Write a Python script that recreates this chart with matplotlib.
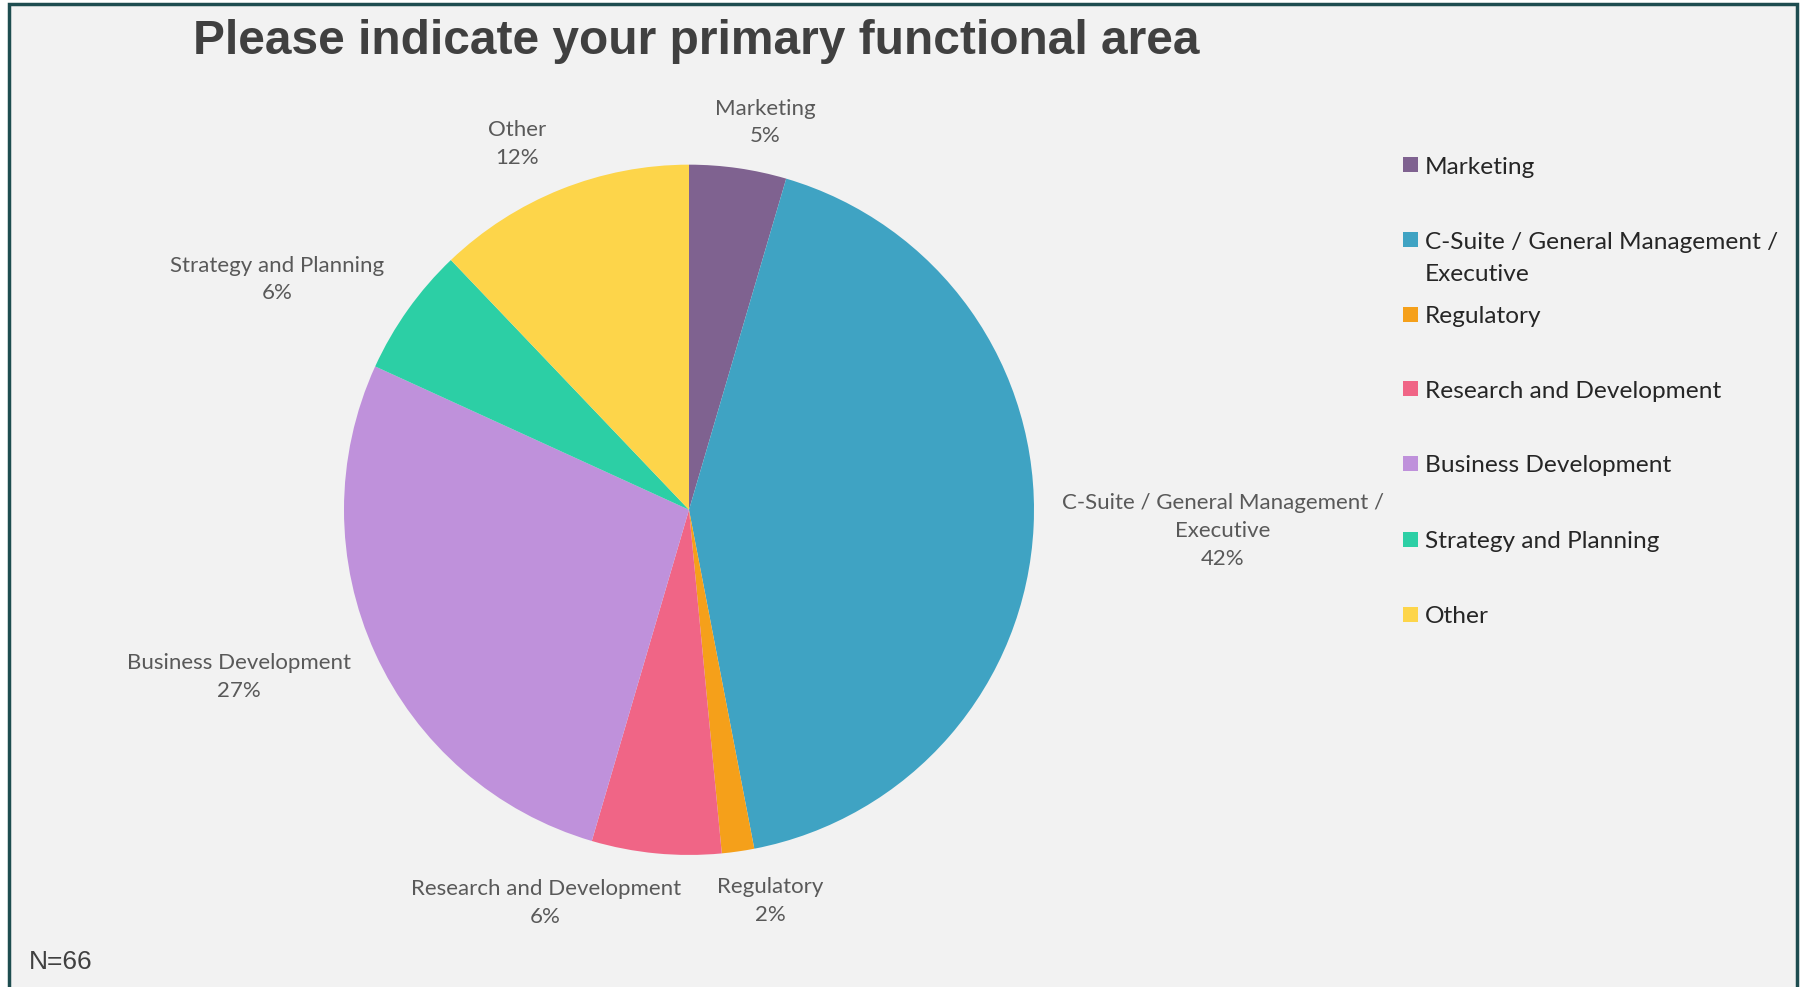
import numpy as np
import matplotlib.pyplot as plt
from matplotlib.patches import Rectangle

# survey responses, N=66
areas = ["Marketing", "C-Suite / General Management / Executive", "Regulatory",
         "Research and Development", "Business Development",
         "Strategy and Planning", "Other"]
counts = [3, 28, 1, 4, 18, 4, 8]
colors = ["#7f6290", "#3fa3c3", "#f5a01a", "#f06586", "#bf91db", "#2ccfa5", "#fdd54a"]

# label text as shown next to each slice (wrapped by hand)
slice_text = ["Marketing", "C-Suite / General Management /\nExecutive", "Regulatory",
              "Research and Development", "Business Development",
              "Strategy and Planning", "Other"]
legend_text = ["Marketing", "C-Suite / General Management /\nExecutive", "Regulatory",
               "Research and Development", "Business Development",
               "Strategy and Planning", "Other"]

# label placement: distance in pie radii and angle shift from the wedge middle
label_radius = [1.145, 1.548, 1.156, 1.212, 1.390, 1.368, 1.171]
label_shift = [3.0, -0.5, -3.6, 14.6, 4.2, -6.2, -3.3]

W, H = 1800, 987
fig = plt.figure(figsize=(W / 100, (H + 0.4) / 100), dpi=100)
fig.patch.set_facecolor("white")
ax = fig.add_axes([0, 0, 1, 1])

# panel background with the dark teal frame
ax.add_patch(Rectangle((9, -20), 1788, H - 4 + 20, facecolor="#f2f2f2",
                       edgecolor="#1e4d50", linewidth=2.5, zorder=0))

cx, cy, r = 689, H - 510, 345
wedges, _ = ax.pie(counts, colors=colors, startangle=90, counterclock=False,
                   center=(cx, cy), radius=r, wedgeprops=dict(linewidth=0))
for w in wedges:
    w.set_zorder(2)

total = sum(counts)
for w, txt, lr, sh, c in zip(wedges, slice_text, label_radius, label_shift, counts):
    mid = np.deg2rad((w.theta1 + w.theta2) / 2 + (-sh))
    x = cx + lr * r * np.cos(mid)
    y = cy + lr * r * np.sin(mid)
    pct = f"{100 * c / total:.0f}%"
    ax.text(x, y, f"{txt}\n{pct}", ha="center", va="center", family="Lato",
            fontsize=16, color="#595959", linespacing=1.48, multialignment="center")

# legend drawn as squares and text, one text per line
ly = [144, 209, 274, 339, 404, 470, 535]
for yy, txt, col in zip(ly, legend_text, colors):
    yf = H - yy * 1800 / 1568
    ax.add_patch(Rectangle((1403, yf - 7.5), 15, 15, facecolor=col, edgecolor="none", zorder=3))
    for i, line in enumerate(txt.split("\n")):
        ax.text(1425, yf - i * 32.5, line, ha="left", va="center_baseline",
                family="Lato", fontsize=17.6, color="#262626")

ax.text(696, H - 54, "Please indicate your primary functional area", ha="center",
        va="baseline", family="Liberation Sans", fontweight="bold", fontsize=34.5,
        color="#404040")
ax.text(29, H - 969, "N=66", ha="left", va="baseline", family="Liberation Sans",
        fontsize=19, color="#404040")

ax.set_xlim(0, W)
ax.set_ylim(0, H)
ax.set_aspect("auto")
ax.axis("off")
fig.savefig("out.png", dpi=100, facecolor=fig.get_facecolor())
